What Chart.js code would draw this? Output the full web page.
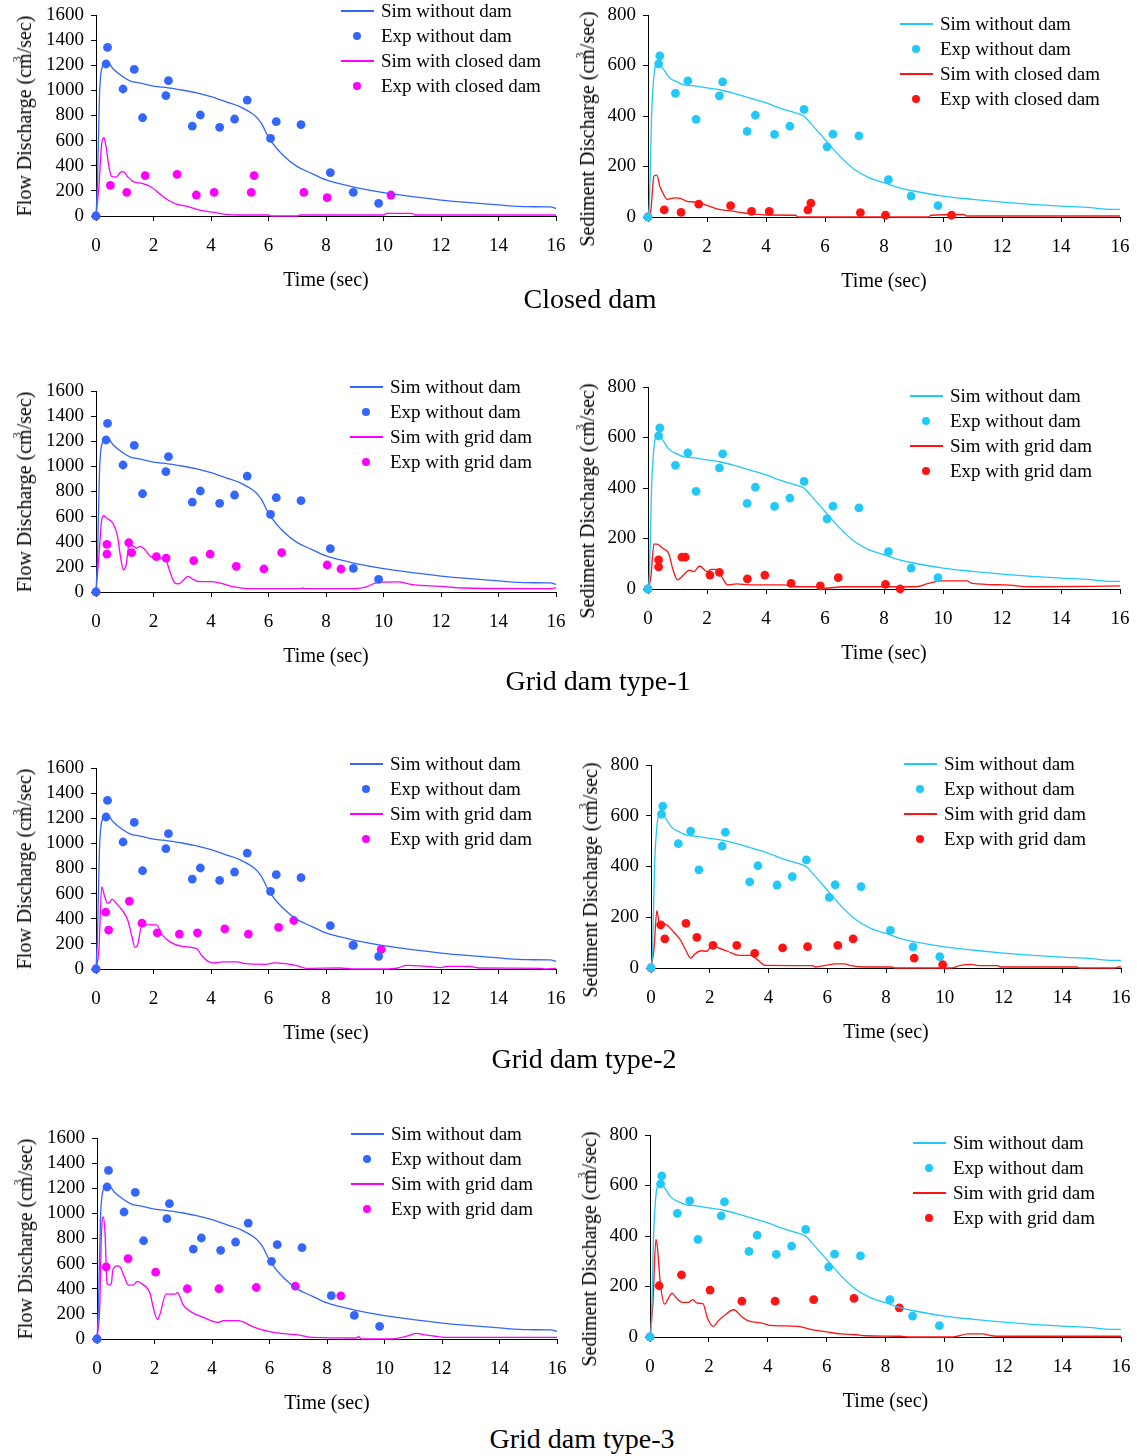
<!DOCTYPE html>
<html>
<head>
<meta charset="utf-8">
<script src="https://cdn.jsdelivr.net/npm/chart.js@4.4.1/dist/chart.umd.min.js"></script>
<style>
  body { margin: 0; background: #fff; }
  #page { position: relative; width: 1137px; height: 1456px; overflow: hidden; background: #fff;
          font-family: 'Liberation Serif', 'Times New Roman', serif; color: #000; }
  canvas { position: absolute; }
  .ytitle { position: absolute; white-space: nowrap; font-size: 20px; line-height: 1;
            transform: translate(-50%, -50%) rotate(-90deg); }
  .sup3 { display: inline-block; width: 0; position: relative; top: -10px; left: -9px; font-size: 12px; }
  .rowtitle { position: absolute; font-size: 28px; line-height: 1; white-space: nowrap;
              transform: translate(-50%, -50%); }
  .legend { position: absolute; font-size: 19px; line-height: 1; }
  .legend .item { position: absolute; left: 0; height: 0; white-space: nowrap; }
  .legend .line { position: absolute; left: 0; top: -1px; width: 33px; height: 1.5px; }
  .legend .dot { position: absolute; left: 12px; top: -4px; width: 8px; height: 8px; border-radius: 50%; }
  .legend .txt { position: absolute; left: 40px; top: -10px; }
</style>
</head>
<body>
<div id="page"></div>
<script>
const FONT = "'Liberation Serif', 'Times New Roman', serif";

// axis ticks
const timeTicks = [0, 2, 4, 6, 8, 10, 12, 14, 16];
const flowTicks = [0, 200, 400, 600, 800, 1000, 1200, 1400, 1600];
const sedTicks = [0, 200, 400, 600, 800];

// without dam (same in every row) - [time, discharge]
const flowSimNoDam = [[0,0],[0.05,250],[0.12,950],[0.18,1150],[0.3,1210],[0.4,1225],[0.6,1170],[0.9,1114],[1.2,1074],[1.5,1060],[2,1034],[2.5,1020],[3,1003],[3.5,980],[4,950],[4.5,910],[5,870],[5.5,804],[5.75,740],[6,626],[6.5,485],[7,393],[7.5,340],[8,287],[8.5,255],[9,228],[10,186],[11,154],[12,127],[13,106],[14,88],[15,74],[15.8,72],[16,60]];
const flowExpNoDam = [[0,0],[0.4,1342],[0.35,1210],[0.94,1011],[1.33,1167],[1.62,782],[2.43,958],[2.52,1077],[3.35,716],[3.63,804],[4.3,706],[4.82,772],[5.26,923],[6.07,618],[6.27,751],[7.13,727],[8.15,345],[8.95,188],[9.83,101]];
const sedSimNoDam = [[0,0],[0.05,60],[0.12,400],[0.18,530],[0.25,597],[0.35,610],[0.5,590],[0.7,555],[1,534],[1.2,524],[1.5,520],[2,511],[2.5,502],[3,487],[3.5,470],[4,452],[4.5,430],[5,412],[5.3,398],[5.5,373],[6,307],[6.5,241],[7,188],[7.5,155],[8,136],[8.5,116],[9,103],[10,83],[11,70],[12,59],[13,50],[14,43],[15,37],[15.5,31],[16,30]];
const sedExpNoDam = [[0,0],[0.4,638],[0.36,606],[0.93,490],[1.35,539],[1.63,387],[2.42,480],[2.53,535],[3.36,339],[3.64,403],[4.29,327],[4.81,360],[5.29,426],[6.07,278],[6.27,328],[7.15,321],[8.15,148],[8.92,83],[9.83,45]];

// closed dam
const flowSimClosed = [[0,0],[0.1,233],[0.2,578],[0.28,623],[0.35,552],[0.45,392],[0.55,313],[0.7,310],[0.85,347],[0.95,353],[1.1,313],[1.3,273],[1.6,260],[1.9,233],[2.2,180],[2.5,127],[2.8,95],[3.2,74],[3.5,53],[4,32],[4.5,13],[5,8],[6,8],[6.1,0],[7,0],[7.1,8],[10,8],[10.1,21],[11,21],[11.1,8],[16,8]];
const flowExpClosed = [[0,0],[0.5,244],[1.07,188],[1.71,321],[2.82,331],[3.49,167],[4.11,188],[5.4,188],[5.5,321],[7.23,188],[8.04,146],[10.26,167]];
const sedSimClosed = [[0,0],[0.1,30],[0.2,162],[0.3,166],[0.4,122],[0.5,96],[0.65,70],[0.9,76],[1.1,74],[1.3,63],[1.6,59],[2,46],[2.4,30],[2.8,24],[3.2,17],[3.6,11],[4,8],[5,7],[5.1,0],[9.5,0],[9.6,7],[10.7,10],[10.8,4],[16,4]];
const sedExpClosed = [[0,0],[0.55,28],[1.12,18],[1.72,51],[2.8,45],[3.51,22],[4.11,22],[5.42,28],[5.52,55],[7.2,17],[8.05,7],[10.29,7]];

// grid dam type-1
const flowSimGrid1 = [[0,0],[0.1,283],[0.2,575],[0.27,607],[0.4,583],[0.6,543],[0.75,442],[0.85,283],[0.95,177],[1.05,217],[1.15,376],[1.3,363],[1.4,350],[1.55,363],[1.7,336],[1.9,283],[2.1,270],[2.4,270],[2.55,177],[2.7,85],[2.85,64],[3,85],[3.2,125],[3.4,98],[3.6,82],[4,82],[4.3,72],[4.8,40],[5.3,27],[7.1,27],[7.2,32],[7.3,27],[9,27],[9.4,40],[9.8,77],[10.5,80],[11,58],[12,45],[12.8,32],[15.8,27],[16,35]];
const flowExpGrid1 = [[0,0],[0.38,379],[0.38,302],[1.14,392],[1.24,313],[2.1,281],[2.44,270],[3.4,249],[3.97,302],[4.88,204],[5.84,183],[6.46,313],[8.04,215],[8.52,183]];
const sedSimGrid1 = [[0,0],[0.1,49],[0.2,178],[0.3,178],[0.5,161],[0.7,141],[0.85,75],[1,36],[1.2,55],[1.4,75],[1.55,69],[1.75,91],[2,69],[2.15,78],[2.3,78],[2.5,49],[2.7,16],[3,20],[3.5,16],[4.6,16],[5,9],[5.9,9],[6,3],[6.6,9],[9.1,9],[9.5,22],[9.9,32],[10.8,32],[11,22],[12.1,16],[13,9],[16,12]];
const sedExpGrid1 = [[0,0],[0.36,115],[0.36,88],[1.15,126],[1.26,126],[2.1,55],[2.42,66],[3.37,40],[3.96,55],[4.85,22],[5.84,12],[6.45,45],[8.05,18],[8.55,0]];

// grid dam type-2
const flowSimGrid2 = [[0,0],[0.1,153],[0.2,656],[0.3,577],[0.4,524],[0.5,537],[0.55,556],[0.7,524],[0.9,471],[1.1,392],[1.25,259],[1.35,172],[1.45,193],[1.6,352],[2.1,352],[2.3,272],[2.6,212],[3,180],[3.5,161],[3.7,101],[3.9,61],[4.1,48],[4.4,56],[4.9,56],[5.2,42],[5.9,37],[6.2,48],[6.5,45],[7,26],[7.3,5],[8.5,8],[8.9,0],[10,0],[10.5,8],[10.8,29],[11.5,21],[12,11],[12.2,21],[13,21],[13.3,8],[15.5,5],[15.6,0],[16,5]];
const flowExpGrid2 = [[0,0],[0.34,452],[0.44,310],[1.16,540],[1.6,365],[2.13,288],[2.9,278],[3.53,288],[4.48,320],[5.3,278],[6.35,331],[6.88,386],[8.94,190],[9.92,156]];
const sedSimGrid2 = [[0,0],[0.1,72],[0.2,226],[0.3,164],[0.4,177],[0.6,164],[0.8,138],[1,111],[1.2,66],[1.35,39],[1.5,56],[1.7,68],[1.9,66],[2.1,92],[2.3,79],[2.6,66],[3,50],[3.4,50],[3.6,35],[3.9,10],[5.5,9],[5.6,4],[5.9,9],[6.3,16],[6.6,16],[6.8,9],[7.3,4],[8.2,4],[8.3,0],[10.2,0],[10.5,9],[10.9,14],[11.2,9],[11.8,9],[11.9,4],[14.5,4],[14.6,0],[15.8,0],[15.9,4],[16,4]];
const sedExpGrid2 = [[0,0],[0.33,170],[0.47,115],[1.19,176],[1.56,121],[2.11,89],[2.92,89],[3.53,58],[4.48,79],[5.33,84],[6.36,89],[6.88,115],[8.96,39],[9.93,13]];

// grid dam type-3
const flowSimGrid3 = [[0,0],[0.1,283],[0.15,812],[0.22,971],[0.28,839],[0.35,442],[0.42,429],[0.5,442],[0.55,548],[0.7,582],[0.8,574],[0.95,495],[1.1,429],[1.25,429],[1.4,458],[1.55,442],[1.75,402],[1.85,362],[1.95,257],[2.1,156],[2.2,204],[2.4,357],[2.7,357],[2.8,368],[3,270],[3.3,212],[3.7,172],[4.2,132],[4.4,146],[4.9,146],[5.5,90],[6,58],[6.4,45],[7,32],[7.5,13],[9,8],[9.1,18],[9.2,0],[10.2,0],[10.8,24],[11.1,45],[11.4,32],[11.7,24],[12.1,13],[16,13]];
const flowExpGrid3 = [[0,0],[0.32,574],[1.08,640],[2.04,532],[3.14,400],[4.24,400],[5.54,410],[6.9,421],[8.48,344]];
const sedSimGrid3 = [[0,0],[0.1,134],[0.2,387],[0.25,358],[0.35,213],[0.5,130],[0.6,148],[0.75,174],[0.9,154],[1.1,137],[1.3,137],[1.45,148],[1.6,134],[1.8,132],[1.95,75],[2.15,42],[2.3,62],[2.5,82],[2.85,108],[3.1,82],[3.3,66],[3.8,55],[4.1,46],[5,42],[5.5,29],[6,20],[6.5,12],[7,9],[7.3,5],[8.5,3],[8.8,0],[10.3,0],[10.8,12],[11.3,12],[11.6,5],[12,3],[16,3]];
const sedExpGrid3 = [[0,0],[0.31,203],[1.07,246],[2.04,186],[3.12,142],[4.25,142],[5.56,148],[6.93,153],[8.47,115]];

const BLUE = '#3366ff', MAGENTA = '#ff00ff', CYAN = '#22c8f8', RED = '#ff1414';

// canvas margins round the plot area (PT/PR must exceed the label half-size plus tick padding)
const YW = 70, XH = 77, PT = 22, PR = 28;

const page = document.getElementById('page');

function xy(pts) {
  return pts.map(([x, y]) => ({ x, y }));
}

function axisOpts(ticks, pad, extra) {
  return Object.assign({
    type: 'linear',
    min: ticks[0],
    max: ticks[ticks.length - 1],
    ticks: { stepSize: ticks[1] - ticks[0], autoSkip: false, maxRotation: 0, padding: pad, color: '#000',
             font: { family: FONT, size: 19 }, callback: v => String(v) },
    grid: { drawOnChartArea: false, drawTicks: true, tickLength: 5, color: '#000', lineWidth: 1 },
    border: { display: true, color: '#000', width: 1 }
  }, extra);
}

function makePanel(p) {
  const box = p.box;
  const c = document.createElement('canvas');
  c.width = box.r - box.l + YW + PR;
  c.height = box.b - box.t + PT + XH;
  c.style.left = (box.l - YW) + 'px';
  c.style.top = (box.t - PT) + 'px';
  page.appendChild(c);

  const labels = ['Sim without dam', 'Exp without dam', 'Sim with ' + p.dam, 'Exp with ' + p.dam];
  const colors = [p.base, p.base, p.damColor, p.damColor];

  new Chart(c.getContext('2d'), {
    type: 'scatter',
    data: {
      datasets: [
        { label: labels[0], data: xy(p.simBase), showLine: true, borderColor: colors[0], borderWidth: 1.3,
          pointRadius: 0, cubicInterpolationMode: 'monotone', clip: false },
        { label: labels[1], data: xy(p.expBase), backgroundColor: colors[1], borderColor: colors[1],
          borderWidth: 0, pointRadius: 4.4, clip: false },
        { label: labels[2], data: xy(p.simDam), showLine: true, borderColor: colors[2], borderWidth: 1.3,
          pointRadius: 0, cubicInterpolationMode: 'monotone', clip: false },
        { label: labels[3], data: xy(p.expDam), backgroundColor: colors[3], borderColor: colors[3],
          borderWidth: 0, pointRadius: 4.4, clip: false }
      ]
    },
    options: {
      responsive: false,
      animation: false,
      layout: { padding: { top: PT, right: PR, left: 0, bottom: 0 } },
      plugins: { legend: { display: false }, tooltip: { enabled: false } },
      scales: {
        x: axisOpts(timeTicks, 14, {
          title: { display: true, text: 'Time (sec)', color: '#000', font: { family: FONT, size: 20 }, padding: 0 },
          afterFit: s => { s.height = XH; }
        }),
        y: axisOpts(p.yTicks, 7, {
          afterFit: s => { s.width = YW; }
        })
      }
    }
  });

  // legend
  const lg = document.createElement('div');
  lg.className = 'legend';
  lg.style.left = p.legend[0] + 'px';
  lg.style.top = p.legend[1] + 'px';
  labels.forEach((lab, i) => {
    const it = document.createElement('div');
    it.className = 'item';
    it.style.top = (i * 25) + 'px';
    const mk = document.createElement('span');
    mk.className = i % 2 === 0 ? 'line' : 'dot';
    mk.style.background = colors[i];
    const tx = document.createElement('span');
    tx.className = 'txt';
    tx.textContent = lab;
    it.appendChild(mk);
    it.appendChild(tx);
    lg.appendChild(it);
  });
  page.appendChild(lg);

  // y-axis title
  const yt = document.createElement('div');
  yt.className = 'ytitle';
  yt.innerHTML = p.yName + ' Discharge (cm<span class="sup3">3</span>/sec)';
  const isLeft = p.yName === 'Flow';
  yt.style.left = (isLeft ? box.l - 72 : box.l - 61) + 'px';
  yt.style.top = ((box.t + box.b) / 2 + (isLeft ? 0 : 13)) + 'px';
  page.appendChild(yt);
}

const panels = [
  { box: { l: 96, r: 556, t: 15, b: 216 }, yTicks: flowTicks, yName: 'Flow', base: BLUE, damColor: MAGENTA, dam: 'closed dam',
    simBase: flowSimNoDam, expBase: flowExpNoDam, simDam: flowSimClosed, expDam: flowExpClosed, legend: [341, 11] },
  { box: { l: 648, r: 1120, t: 15, b: 217 }, yTicks: sedTicks, yName: 'Sediment', base: CYAN, damColor: RED, dam: 'closed dam',
    simBase: sedSimNoDam, expBase: sedExpNoDam, simDam: sedSimClosed, expDam: sedExpClosed, legend: [900, 24] },
  { box: { l: 96, r: 556, t: 391, b: 592 }, yTicks: flowTicks, yName: 'Flow', base: BLUE, damColor: MAGENTA, dam: 'grid dam',
    simBase: flowSimNoDam, expBase: flowExpNoDam, simDam: flowSimGrid1, expDam: flowExpGrid1, legend: [350, 387] },
  { box: { l: 648, r: 1120, t: 387, b: 589 }, yTicks: sedTicks, yName: 'Sediment', base: CYAN, damColor: RED, dam: 'grid dam',
    simBase: sedSimNoDam, expBase: sedExpNoDam, simDam: sedSimGrid1, expDam: sedExpGrid1, legend: [910, 396] },
  { box: { l: 96, r: 556, t: 768, b: 969 }, yTicks: flowTicks, yName: 'Flow', base: BLUE, damColor: MAGENTA, dam: 'grid dam',
    simBase: flowSimNoDam, expBase: flowExpNoDam, simDam: flowSimGrid2, expDam: flowExpGrid2, legend: [350, 764] },
  { box: { l: 651, r: 1121, t: 765, b: 968 }, yTicks: sedTicks, yName: 'Sediment', base: CYAN, damColor: RED, dam: 'grid dam',
    simBase: sedSimNoDam, expBase: sedExpNoDam, simDam: sedSimGrid2, expDam: sedExpGrid2, legend: [904, 764] },
  { box: { l: 97, r: 557, t: 1138, b: 1339 }, yTicks: flowTicks, yName: 'Flow', base: BLUE, damColor: MAGENTA, dam: 'grid dam',
    simBase: flowSimNoDam, expBase: flowExpNoDam, simDam: flowSimGrid3, expDam: flowExpGrid3, legend: [351, 1134] },
  { box: { l: 650, r: 1121, t: 1135, b: 1337 }, yTicks: sedTicks, yName: 'Sediment', base: CYAN, damColor: RED, dam: 'grid dam',
    simBase: sedSimNoDam, expBase: sedExpNoDam, simDam: sedSimGrid3, expDam: sedExpGrid3, legend: [913, 1143] }
];

panels.forEach(makePanel);

// row captions
const rowTitles = [['Closed dam', 590, 299], ['Grid dam type-1', 598, 681], ['Grid dam type-2', 584, 1059], ['Grid dam type-3', 582, 1439]];
rowTitles.forEach(([txt, x, y]) => {
  const d = document.createElement('div');
  d.className = 'rowtitle';
  d.textContent = txt;
  d.style.left = x + 'px';
  d.style.top = y + 'px';
  page.appendChild(d);
});
</script>
</body>
</html>
